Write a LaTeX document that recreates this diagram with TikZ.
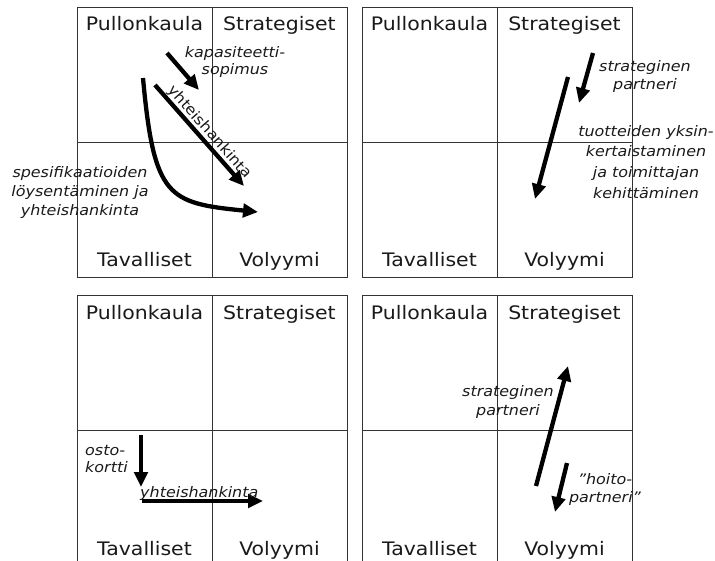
\documentclass[tikz,border=0pt]{standalone}
\usepackage{fontspec}
\setmainfont{DejaVu Sans}[FakeStretch=1.1]
\usetikzlibrary{arrows.meta}
\newcommand\mlines[3]{{\fontsize{14.5}{#1}\selectfont\itshape\begin{tabular}[t]{@{}#2@{}}#3\end{tabular}}}
\definecolor{inkline}{HTML}{333333}
\definecolor{inktext}{HTML}{1A1A1A}
\tikzset{
  panel/.style={draw=inkline, line width=0.9pt},
  lab/.style={anchor=base, inner sep=0pt, text=inktext, font=\fontsize{18.6}{22}\selectfont},
  note/.style={anchor=base, inner sep=0pt, text=inktext},
  thickarrow/.style={line width=4.3pt, -{Triangle[length=15pt,width=13.5pt]}},
  quad/.pic={
    \draw[panel] (0,0) rectangle (270,270);
    \draw[panel] (135,0) -- (135,270) (0,135) -- (270,135);
    \node[lab] (-p) at (67.5,23.7) {Pullonkaula};
    \node[lab] (-s) at (202.5,23.7) {Strategiset};
    \node[lab] (-t) at (67.5,259.7) {Tavalliset};
    \node[lab] (-v) at (202.5,259.7) {Volyymi};
  }
}
\begin{document}
\begin{tikzpicture}[x=1pt,y=-1pt]
\useasboundingbox (0,0) rectangle (715,560);
\clip (0,0) rectangle (715,560);
\fill[white] (0,0) rectangle (715,560);
\pic (tl) at (77,7) {quad};
\pic (tr) at (362,7) {quad};
\pic (bl) at (77,295.5) {quad};
\pic (br) at (362,295.5) {quad};

% top-left
\coordinate (a1s) at (167,53);  \coordinate (a1e) at (199,90);
\coordinate (a2s) at (155,85);  \coordinate (a2e) at (244,186);
\coordinate (a3s) at (143,78);  \coordinate (a3e) at (258,212);
\draw[thickarrow] (a1s) -- (a1e);
\draw[thickarrow] (a2s) -- node[sloped, above, pos=0.53, inner sep=0.5pt, text=inktext, font=\fontsize{14.5}{17}\selectfont] (yh1) {yhteishankinta} (a2e);
\draw[thickarrow] (a3s) .. controls (154,198) and (168,203) .. (a3e);
\node[note] (kap) at (235,57) {\mlines{17}{c}{kapasiteetti-\\sopimus}};
\node[note] (spe) at (80,177) {\mlines{19}{c}{spesifikaatioiden\\löysentäminen ja\\yhteishankinta}};

% top-right
\coordinate (b1s) at (593,53);  \coordinate (b1e) at (579,103);
\coordinate (b2s) at (568,77);  \coordinate (b2e) at (535,199);
\draw[thickarrow] (b1s) -- (b1e);
\draw[thickarrow] (b2s) -- (b2e);
\node[note] (str1) at (645,71.5) {\mlines{18}{c}{strateginen\\partneri}};
\node[note] (tuo) at (646,136) {\mlines{20.7}{c}{tuotteiden yksin-\\kertaistaminen\\ja toimittajan\\kehittäminen}};

% bottom-left
\coordinate (c1s) at (141,435); \coordinate (c1e) at (141,487);
\coordinate (c2s) at (142,501); \coordinate (c2e) at (263,501);
\draw[thickarrow] (c1s) -- (c1e);
\draw[thickarrow] (c2s) -- (c2e);
\node[note, anchor=base west] (osto) at (85,455) {\mlines{17}{l}{osto-\\kortti}};
\node[note, anchor=base west] (yh2) at (140,497) {\mlines{17}{l}{yhteishankinta}};

% bottom-right
\coordinate (d1s) at (536,486); \coordinate (d1e) at (568,366);
\coordinate (d2s) at (567,463); \coordinate (d2e) at (555,512);
\draw[thickarrow] (d1s) -- (d1e);
\draw[thickarrow] (d2s) -- (d2e);
\node[note] (str2) at (508,396) {\mlines{19}{c}{strateginen\\partneri}};
\node[note] (hoi) at (605,484) {\mlines{18}{c}{”hoito-\\partneri”}};
\end{tikzpicture}
\end{document}
